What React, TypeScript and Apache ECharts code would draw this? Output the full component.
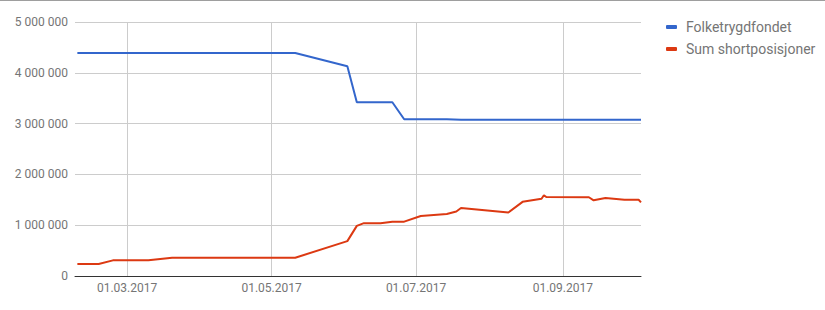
import React, { useEffect, useRef } from "react";
import * as echarts from "echarts";

const seriesNames = ["Folketrygdfondet", "Sum shortposisjoner"];

const axisStart = "2017-02-07";
const axisEnd = "2017-10-04";
const tickDates = ["2017-03-01", "2017-05-01", "2017-07-01", "2017-09-01"];

const yTicks = [0, 1000000, 2000000, 3000000, 4000000, 5000000];

const folkeDates = ["2017-02-08", "2017-05-11", "2017-06-02", "2017-06-06", "2017-06-21", "2017-06-26", "2017-07-14", "2017-07-20", "2017-10-04"];
const folkeValues = [4390000, 4390000, 4130000, 3420000, 3420000, 3085000, 3085000, 3075000, 3075000];

const shortDates = [
  "2017-02-08", "2017-02-17", "2017-02-23", "2017-03-10", "2017-03-20", "2017-05-11",
  "2017-06-02", "2017-06-06", "2017-06-09", "2017-06-16", "2017-06-21", "2017-06-26",
  "2017-07-03", "2017-07-14", "2017-07-18", "2017-07-20", "2017-08-09", "2017-08-15",
  "2017-08-23", "2017-08-24", "2017-08-25", "2017-09-12", "2017-09-14", "2017-09-19",
  "2017-09-27", "2017-10-03", "2017-10-04",
];
const shortValues = [
  235000, 235000, 308000, 308000, 360000, 360000,
  686000, 987000, 1040000, 1040000, 1070000, 1070000,
  1180000, 1220000, 1270000, 1340000, 1250000, 1460000,
  1520000, 1590000, 1555000, 1550000, 1490000, 1535000,
  1500000, 1500000, 1450000,
];

function buildDays(start: string, end: string): string[] {
  const out: string[] = [];
  const d = new Date(start + "T00:00:00Z");
  const e = new Date(end + "T00:00:00Z");
  while (d.getTime() <= e.getTime()) {
    out.push(d.toISOString().slice(0, 10));
    d.setUTCDate(d.getUTCDate() + 1);
  }
  return out;
}

const fmtDate = (v: string) => {
  const [y, m, d] = v.split("-");
  return `${d}.${m}.${y}`;
};
const fmtNum = (v: number) => String(Math.round(v)).replace(/\B(?=(\d{3})+(?!\d))/g, " ");

export default function App() {
  const ref = useRef<HTMLDivElement>(null);
  useEffect(() => {
    if (!ref.current) return;
    const chart = echarts.init(ref.current, null, { renderer: "svg" });
    const days = buildDays(axisStart, axisEnd);
    const isTick = (_i: number, v: string) => tickDates.includes(v);
    const font = "Roboto";
    chart.setOption({
      animation: false,
      color: ["#3366cc", "#dc3912"],
      textStyle: { fontFamily: font },
      grid: { left: 75, right: 184, top: 22, bottom: 34, containLabel: false },
      graphic: [
        { type: "line", shape: { x1: 0, y1: 0.5, x2: 825, y2: 0.5 }, style: { stroke: "#9e9e9e", lineWidth: 1 } },
      ],
      legend: {
        orient: "vertical",
        left: 661,
        top: 15,
        icon: "roundRect",
        itemWidth: 11,
        itemHeight: 4,
        itemGap: 8,
        textStyle: { color: "#757575", fontSize: 14, fontFamily: font, padding: [0, 0, 0, 4] },
        data: seriesNames,
      },
      xAxis: {
        type: "category",
        data: days,
        boundaryGap: false,
        axisLine: { show: true, lineStyle: { color: "#333333", width: 1 } },
        axisTick: { show: false },
        axisLabel: {
          interval: isTick,
          formatter: fmtDate,
          color: "#757575",
          fontSize: 12,
          fontFamily: font,
          margin: 6,
        },
        splitLine: { show: true, interval: isTick, lineStyle: { color: "#cccccc", width: 1 } },
      },
      yAxis: {
        type: "value",
        min: yTicks[0],
        max: yTicks[yTicks.length - 1],
        interval: yTicks[1] - yTicks[0],
        axisLine: { show: false },
        axisTick: { show: false },
        axisLabel: { formatter: fmtNum, color: "#757575", fontSize: 12, fontFamily: font, margin: 7 },
        splitLine: { show: true, lineStyle: { color: "#cccccc", width: 1 } },
      },
      series: [
        {
          name: seriesNames[0],
          type: "line",
          data: folkeDates.map((d, i) => [d, folkeValues[i]]),
          showSymbol: false,
          symbol: "none",
          lineStyle: { width: 2 },
        },
        {
          name: seriesNames[1],
          type: "line",
          data: shortDates.map((d, i) => [d, shortValues[i]]),
          showSymbol: false,
          symbol: "none",
          lineStyle: { width: 2 },
        },
      ],
    });
    return () => chart.dispose();
  }, []);
  return <div ref={ref} style={{ position: "absolute", left: 0, top: 0, width: 825, height: 310 }} />;
}
